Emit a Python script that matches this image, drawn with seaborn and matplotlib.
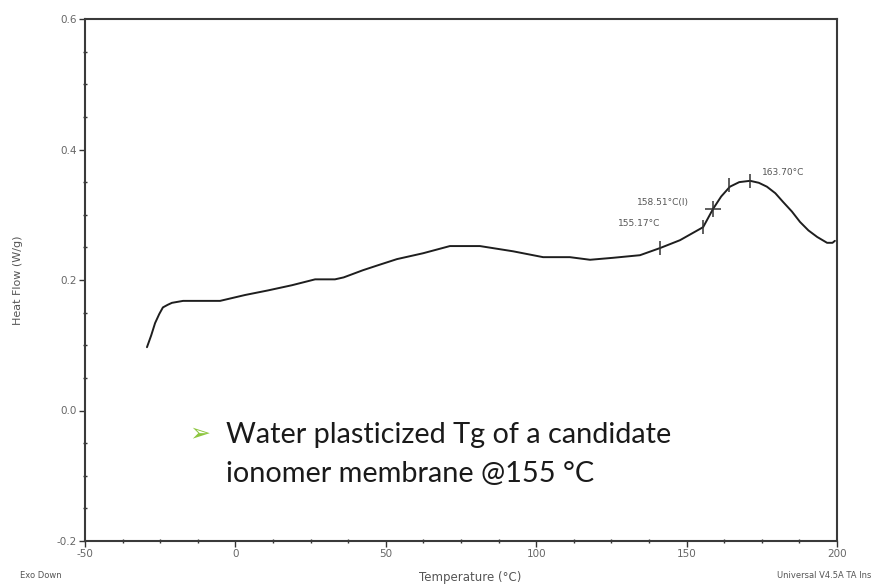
import matplotlib
matplotlib.use("Agg")
import matplotlib.pyplot as plt
import pandas as pd
import seaborn as sns
from matplotlib.ticker import MultipleLocator

# DSC heat-flow trace
temperature = [-29.4, -28.0, -26.7, -25.3, -24.1, -22.5, -21.1, -17.4, -5.1, 3.2,
               10.8, 18.8, 26.5, 33.1, 36.0, 42.4, 47.0, 53.7, 62.4, 71.3,
               81.3, 92.3, 102.3, 111.2, 117.9, 125.5, 134.5, 141.2, 147.8, 155.5,
               158.8, 161.5, 164.4, 167.5, 171.1, 174.0, 176.7, 179.5, 182.0, 185.0,
               187.7, 190.5, 193.4, 196.7, 198.5, 199.3]
heat_flow = [0.097, 0.115, 0.134, 0.148, 0.158, 0.162, 0.165, 0.168, 0.168, 0.177,
             0.184, 0.192, 0.201, 0.201, 0.204, 0.215, 0.222, 0.232, 0.241, 0.252,
             0.252, 0.244, 0.235, 0.235, 0.231, 0.234, 0.238, 0.249, 0.261, 0.281,
             0.309, 0.328, 0.343, 0.350, 0.352, 0.349, 0.343, 0.333, 0.320, 0.305,
             0.289, 0.276, 0.266, 0.257, 0.257, 0.260]

# Glass-transition analysis marks
tick_temps = [141.2, 155.5, 164.2, 171.1]
tick_flows = [0.249, 0.281, 0.345, 0.352]
inflection_temp = [158.8]
inflection_flow = [0.309]

label_texts = ["155.17\u00b0C", "158.51\u00b0C(I)", "163.70\u00b0C"]
label_temps = [127.2, 133.5, 175.1]
label_flows = [0.287, 0.319, 0.364]

x_ticks = [-50, 0, 50, 100, 150, 200]
y_ticks = [-0.2, 0.0, 0.2, 0.4, 0.6]
y_tick_labels = ["-0.2", "0.0", "0.2", "0.4", "0.6"]

sns.set_style("ticks")
plt.rcParams["font.family"] = ["DejaVu Sans"]

fig = plt.figure(figsize=(8.73, 5.87), dpi=100)
ax = fig.add_axes([85 / 873, 46 / 587, 752 / 873, 522 / 587])

df = pd.DataFrame({"Temperature": temperature, "HeatFlow": heat_flow})
sns.lineplot(data=df, x="Temperature", y="HeatFlow", ax=ax, color="#1e1e1e",
             linewidth=1.4, sort=False)

ax.plot(tick_temps, tick_flows, linestyle="none", marker="|", markersize=10,
        markeredgewidth=1.1, color="#333333")
ax.plot(inflection_temp, inflection_flow, linestyle="none", marker="+",
        markersize=11, markeredgewidth=1.1, color="#333333")

for txt, tx, ty in zip(label_texts, label_temps, label_flows):
    ax.text(tx, ty, txt, fontsize=6.5, color="#555555", ha="left", va="center")

ax.set_xlim(-50, 200)
ax.set_ylim(-0.2, 0.6)
ax.set_xticks(x_ticks)
ax.set_xticklabels([str(v) for v in x_ticks])
ax.set_yticks(y_ticks)
ax.set_yticklabels(y_tick_labels)
ax.xaxis.set_minor_locator(MultipleLocator(12.5))
ax.yaxis.set_minor_locator(MultipleLocator(0.05))
ax.tick_params(which="major", direction="out", length=4, width=1.0,
               color="#333333", labelsize=7.5, labelcolor="#666666", pad=2)
ax.tick_params(which="minor", direction="inout", length=3, width=1.0,
               color="#333333")
ax.tick_params(top=False, right=False, which="both")

for side in ["left", "right", "top", "bottom"]:
    ax.spines[side].set_visible(True)
    ax.spines[side].set_color("#3a3a3a")
    ax.spines[side].set_linewidth(1.5)

ax.set_xlabel("")
ax.set_ylabel("Heat Flow (W/g)", fontsize=8, color="#555555", labelpad=24)

fig.text(470 / 873, 1 - 578 / 587, "Temperature (\u00b0C)", fontsize=8.5,
         color="#555555", ha="center", va="center")
fig.text(20 / 873, 1 - 576 / 587, "Exo Down", fontsize=6, color="#555555",
         ha="left", va="center")
fig.text(871 / 873, 1 - 576 / 587, "Universal V4.5A TA Ins", fontsize=6,
         color="#555555", ha="right", va="center")

# Callout text
fig.text(189 / 873, 1 - 440 / 587, "\u27a2", fontsize=18, color="#8dc63f",
         family=["DejaVu Sans"], ha="left", va="baseline")
fig.text(226 / 873, 1 - 443 / 587, "Water plasticized Tg of a candidate",
         fontsize=20.8, color="#1a1a1a", family=["Lato"], ha="left", va="baseline")
fig.text(226 / 873, 1 - 482 / 587, "ionomer membrane @155 \u00b0C",
         fontsize=20.8, color="#1a1a1a", family=["Lato"], ha="left", va="baseline")

fig.savefig("out.png", dpi=100)
